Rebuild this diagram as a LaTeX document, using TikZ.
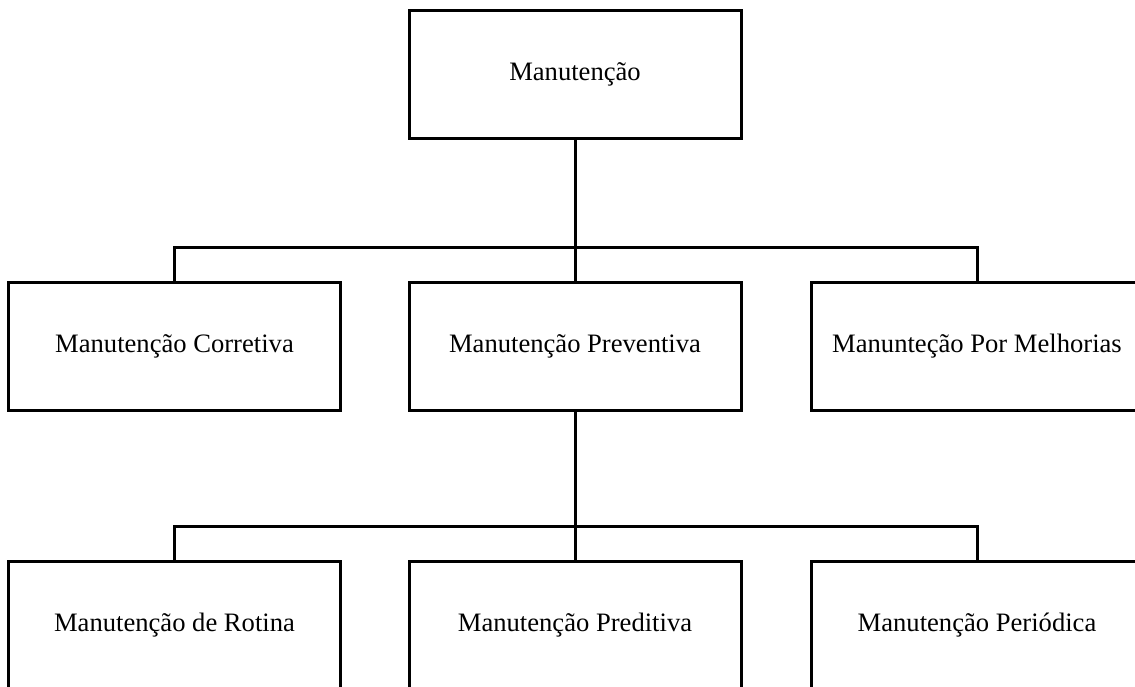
\documentclass[tikz,border=0pt]{standalone}
\usepackage{fontspec}
\setmainfont{Liberation Serif}
\begin{document}
\begin{tikzpicture}[x=1pt,y=-1pt,
  box/.style={draw=black,line width=3pt,fill=white,minimum width=332pt,minimum height=128pt,inner sep=0pt,outer sep=0pt,font=\fontsize{26.6}{32}\selectfont},
  conn/.style={draw=black,line width=3pt}]
\useasboundingbox (0,0) rectangle (1135,686);
\node[box] (top) at (575,74) {Manutenção};
\node[box] (corr) at (174.5,346.5) {Manutenção Corretiva};
\node[box] (prev) at (575,346.5) {Manutenção Preventiva};
\node[box] (melh) at (977,346.5) {Manunteção Por Melhorias};
\node[box] (rot) at (174.5,625.5) {Manutenção de Rotina};
\node[box] (pred) at (575,625.5) {Manutenção Preditiva};
\node[box] (peri) at (977,625.5) {Manutenção Periódica};
\coordinate (j1) at (575,247);
\coordinate (j2) at (575,526);
\draw[conn] (top.south) -- (j1);
\draw[conn] (corr.north) |- (j1) -| (melh.north);
\draw[conn] (j1) -- (prev.north);
\draw[conn] (prev.south) -- (j2);
\draw[conn] (rot.north) |- (j2) -| (peri.north);
\draw[conn] (j2) -- (pred.north);
\end{tikzpicture}
\end{document}
